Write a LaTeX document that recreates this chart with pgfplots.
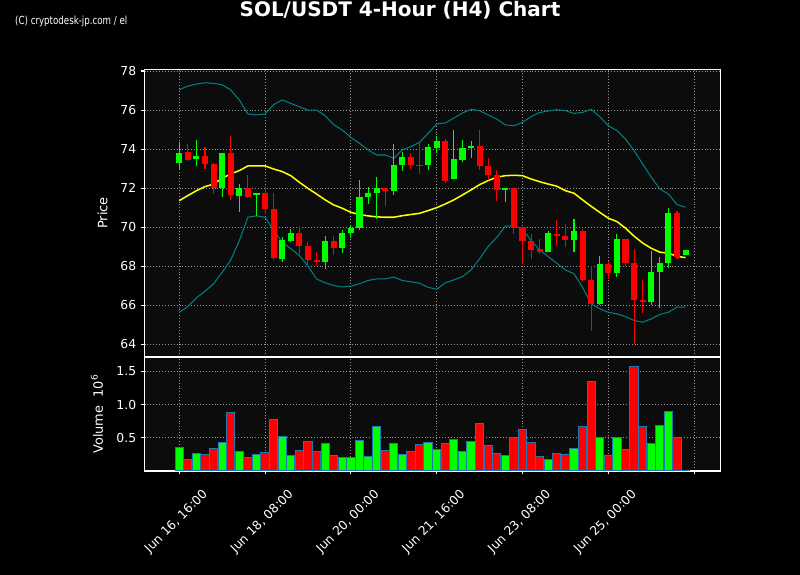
\documentclass[border=0pt]{standalone}
\usepackage{pgfplots}
\pgfplotsset{compat=1.18}
\usepackage{pgfplotstable}
\usepackage{fontspec}
\setmainfont{DejaVu Sans}
\definecolor{upc}{RGB}{0,255,0}
\definecolor{dnc}{RGB}{255,0,0}
\definecolor{bbc}{RGB}{0,128,128}
\definecolor{smac}{RGB}{255,255,0}
\definecolor{vedge}{RGB}{31,119,180}
\definecolor{axbg}{RGB}{12,12,12}
\definecolor{gridc}{RGB}{150,150,150}

\pgfplotstableread{
i o h l c v
0 73.27 74.35 72.97 73.80 0.348
2 73.48 74.48 73.14 73.67 0.258
5 71.99 73.82 71.53 73.82 0.424
7 71.62 72.21 70.78 72.03 0.288
9 71.63 71.77 70.59 71.77 0.242
12 68.36 69.50 68.22 69.35 0.515
13 69.31 69.91 69.23 69.72 0.227
17 68.20 69.55 67.85 69.31 0.409
19 68.92 69.86 68.68 69.72 0.197
20 69.69 70.13 69.45 69.98 0.197
21 69.95 72.42 69.86 71.57 0.455
22 71.53 72.04 71.19 71.77 0.212
23 71.74 72.57 70.41 72.03 0.667
25 71.84 74.26 71.65 73.20 0.409
26 73.17 73.84 72.88 73.61 0.242
29 73.17 74.26 72.93 74.13 0.424
30 74.08 74.67 73.82 74.43 0.318
32 72.45 75.00 72.45 73.51 0.470
33 73.46 74.47 73.32 74.06 0.288
34 74.04 74.42 73.55 74.16 0.439
38 71.89 71.99 71.29 71.99 0.227
43 68.75 69.79 68.75 69.72 0.167
46 69.33 70.42 68.74 69.83 0.333
49 66.05 68.53 65.99 68.09 0.500
51 67.64 69.66 67.47 69.42 0.500
55 66.16 68.80 66.02 67.73 0.409
56 67.69 68.46 65.85 68.19 0.682
57 68.15 71.00 67.91 70.75 0.894
59 68.56 68.85 68.56 68.85 0.008
}\up

\pgfplotstableread{
i o h l c v
1 73.87 74.26 73.39 73.46 0.167
3 73.67 74.11 72.98 73.22 0.242
4 73.26 73.31 71.70 71.99 0.333
6 73.82 74.67 71.40 71.63 0.879
8 72.03 72.68 71.50 71.57 0.197
10 71.77 72.11 70.66 70.92 0.273
11 70.95 71.75 68.32 68.41 0.773
14 69.72 70.06 68.63 69.02 0.303
15 69.06 69.23 67.95 68.31 0.439
16 68.34 68.73 68.02 68.20 0.288
18 69.31 69.55 68.58 68.92 0.227
24 72.03 72.03 71.09 71.84 0.303
27 73.61 73.78 72.97 73.17 0.288
28 73.20 74.35 72.73 73.15 0.394
31 74.43 74.50 72.27 72.39 0.409
35 74.16 74.98 72.93 73.12 0.712
36 73.14 73.53 72.42 72.66 0.379
37 72.68 72.93 71.34 71.89 0.258
39 71.99 71.99 69.66 69.96 0.500
40 70.00 70.00 68.10 69.28 0.621
41 69.30 69.66 68.38 68.85 0.424
42 68.90 69.38 68.63 68.75 0.212
44 69.67 70.37 69.09 69.54 0.258
45 69.57 70.17 69.00 69.33 0.242
47 69.83 69.91 67.20 67.27 0.667
48 67.32 68.00 64.69 66.05 1.348
50 68.09 68.29 67.37 67.64 0.227
52 69.42 69.42 68.02 68.15 0.318
53 68.19 68.87 64.02 66.26 1.576
54 66.29 67.30 65.61 66.16 0.667
58 70.75 70.83 68.36 68.49 0.500
}\dn

\pgfplotstableread{
i up mid lo
0 77.04 71.36 65.64
1 77.23 71.62 65.93
2 77.33 71.87 66.38
3 77.40 72.08 66.72
4 77.37 72.21 67.10
5 77.30 72.51 67.69
6 77.03 72.73 68.32
7 76.52 72.90 69.31
8 75.80 73.14 70.51
9 75.75 73.14 70.58
10 75.80 73.14 70.51
11 76.28 72.98 69.83
12 76.52 72.85 69.23
13 76.34 72.64 68.90
14 76.17 72.30 68.55
15 76.00 71.99 68.00
16 76.00 71.70 67.35
17 75.71 71.40 67.15
18 75.25 71.14 67.01
19 74.98 70.97 66.94
20 74.60 70.76 66.98
21 74.30 70.65 67.10
22 73.96 70.58 67.27
23 73.70 70.53 67.35
24 73.70 70.51 67.35
25 73.53 70.51 67.44
26 73.96 70.59 67.27
27 74.13 70.65 67.20
28 74.35 70.71 67.13
29 74.81 70.85 66.92
30 75.29 71.00 66.82
31 75.34 71.19 67.15
32 75.59 71.40 67.30
33 75.85 71.65 67.47
34 76.04 71.91 67.81
35 75.97 72.18 68.38
36 75.75 72.39 69.01
37 75.54 72.56 69.48
38 75.24 72.64 70.05
39 75.20 72.66 70.08
40 75.37 72.64 69.91
41 75.66 72.47 69.31
42 75.88 72.33 68.84
43 75.95 72.21 68.49
44 76.02 72.10 68.15
45 75.97 71.87 67.81
46 75.83 71.74 67.61
47 75.88 71.40 66.92
48 76.04 71.07 66.07
49 75.66 70.76 65.82
50 75.20 70.46 65.64
51 74.95 70.29 65.56
52 74.52 69.95 65.42
53 73.92 69.54 65.22
54 73.24 69.19 65.13
55 72.56 68.92 65.30
56 71.96 68.72 65.53
57 71.70 68.67 65.64
58 71.16 68.51 65.90
59 71.02 68.44 65.90
}\bb

\begin{document}
\begin{tikzpicture}
\fill[black] (0,0) rectangle (576pt,414pt);
\pgfplotsset{
  common/.style={
    anchor=south west, scale only axis, width=414.58pt,
    xmin=-4.05, xmax=63.05, xtick={0,10,...,60},
    grid=major,
    major grid style={gridc, line width=0.6pt, dash pattern=on 0.6pt off 1.5pt},
    axis line style={white, line width=0.8pt},
    tick style={white, line width=0.8pt},
    major tick length=2.5pt, tick align=outside,
    xtick pos=left, ytick pos=left,
    axis background/.style={fill=axbg},
    tick label style={font=\fontsize{8.9}{10}\selectfont, text=white},
    /pgf/number format/assume math mode=true,
    scaled y ticks=false,
  },
  wick/.style={only marks, mark size=0pt, mark options={draw=none, fill=none}, forget plot,
    error bars/.cd, y dir=plus, y explicit, error mark=none,
    error bar style={draw=#1, line width=0.75pt}},
  body/.style={only marks, mark size=0pt, mark options={draw=none, fill=none}, forget plot,
    error bars/.cd, y dir=plus, y explicit, error mark=none,
    error bar style={draw=#1, line width=4.4pt}},
}
\begin{axis}[common, at={(104.04pt,156.96pt)}, height=207pt,
  ymin=63.35, ymax=78.08, ytick={64,66,...,78}, xticklabel={}]
\addplot[bbc, line width=0.75pt] table[x=i, y=up] {\bb};
\addplot[bbc, line width=0.75pt] table[x=i, y=lo] {\bb};
\addplot[smac, line width=1.1pt] table[x=i, y=mid] {\bb};
\addplot[wick=upc] table[x=i, y=l, y error plus expr=\thisrow{h}-\thisrow{l}] {\up};
\addplot[wick=dnc] table[x=i, y=l, y error plus expr=\thisrow{h}-\thisrow{l}] {\dn};
\addplot[body=upc] table[x=i, y=o, y error plus expr=\thisrow{c}-\thisrow{o}] {\up};
\addplot[body=dnc] table[x=i, y=c, y error plus expr=\thisrow{o}-\thisrow{c}] {\dn};
\end{axis}
\begin{axis}[common, at={(104.04pt,74.88pt)}, height=82.08pt,
  ymin=0, ymax=1.72, ytick={0.5,1.0,1.5},
  yticklabel style={/pgf/number format/.cd, fixed, fixed zerofill, precision=1},
  xticklabels={{Jun 16, 16:00},{Jun 18, 08:00},{Jun 20, 00:00},{Jun 21, 16:00},{Jun 23, 08:00},{Jun 25, 00:00},{}},
  xticklabel style={yshift=-34pt, xshift=-2pt, rotate=45, anchor=center}]
\addplot[ybar, bar width=0.96, bar shift=0pt, fill=upc, draw=vedge, line width=0.72pt] table[x=i, y=v] {\up};
\addplot[ybar, bar width=0.96, bar shift=0pt, fill=dnc, draw=vedge, line width=0.72pt] table[x=i, y=v] {\dn};
\end{axis}
\node[text=white, font=\bfseries\fontsize{14.4}{17}\selectfont] at (288pt,406.8pt) {SOL/USDT 4-Hour (H4) Chart};
\node[anchor=west, text=white, font=\fontsize{8}{9}\selectfont, xscale=0.78, inner sep=0pt] at (10.8pt,398.9pt) {(C) cryptodesk-jp.com / el};
\node[rotate=90, text=white, font=\fontsize{9.3}{11}\selectfont] at (73.9pt,260.6pt) {Price};
\node[rotate=90, text=white, font=\fontsize{9.3}{11}\selectfont] at (69.8pt,115.9pt) {Volume\ \ 10\textsuperscript{6}};
\pgfresetboundingbox
\path (0,0) rectangle (576pt,414pt);
\end{tikzpicture}
\end{document}
